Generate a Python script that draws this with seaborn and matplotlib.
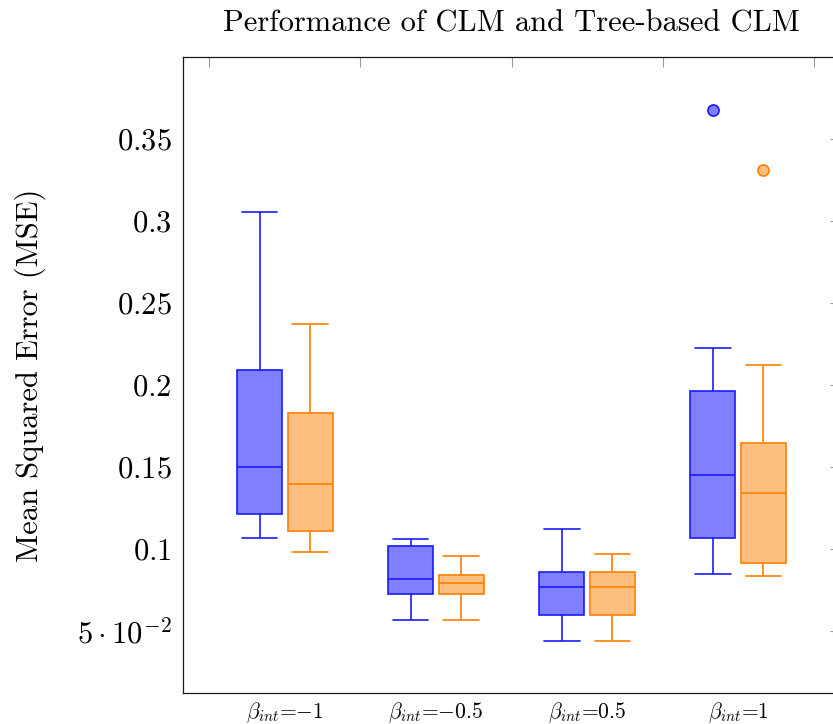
import numpy as np
import pandas as pd
import matplotlib
matplotlib.use("Agg")
import matplotlib.pyplot as plt
from matplotlib.ticker import FixedLocator, FixedFormatter, NullFormatter
import seaborn as sns

# Scenario groups and their axis labels
groups = ["-1", "-0.5", "0.5", "1"]
group_labels = [r"$\beta_{int}$=$-$1", r"$\beta_{int}$=$-$0.5",
                r"$\beta_{int}$=0.5", r"$\beta_{int}$=1"]
methods = ["CLM", "Tree-based CLM"]

# Five-number summaries (lower whisker, Q1, median, Q3, upper whisker) and outliers
clm_low = [0.1068, 0.0565, 0.0441, 0.0850]
clm_q1 = [0.1212, 0.0724, 0.0600, 0.1067]
clm_med = [0.1497, 0.0815, 0.0768, 0.1449]
clm_q3 = [0.2092, 0.1016, 0.0862, 0.1962]
clm_high = [0.3055, 0.1059, 0.1120, 0.2224]
clm_out = [[], [], [], [0.3675]]

tree_low = [0.0981, 0.0565, 0.0441, 0.0837]
tree_q1 = [0.1110, 0.0724, 0.0600, 0.0913]
tree_med = [0.1395, 0.0791, 0.0768, 0.1343]
tree_q3 = [0.1831, 0.0841, 0.0862, 0.1648]
tree_high = [0.2370, 0.0955, 0.0971, 0.2122]
tree_out = [[], [], [], [0.3309]]

ytick_values = [0.05, 0.10, 0.15, 0.20, 0.25, 0.30, 0.35]
ytick_labels = [r"$5\cdot10^{-2}$", r"$0.1$", r"$0.15$", r"$0.2$",
                r"$0.25$", r"$0.3$", r"$0.35$"]

summaries = {
    "CLM": (clm_low, clm_q1, clm_med, clm_q3, clm_high, clm_out),
    "Tree-based CLM": (tree_low, tree_q1, tree_med, tree_q3, tree_high, tree_out),
}

# Expand each summary into sample points whose quartiles equal the summary
rows = []
for m, (low, q1, med, q3, high, out) in summaries.items():
    for g, lo, a, md, b, hi, o in zip(groups, low, q1, med, q3, high, out):
        for v in [lo, a, a, md, md, b, b, hi, *o]:
            rows.append((g, m, v))
df = pd.DataFrame(rows, columns=["group", "method", "mse"])

fill_colors = {"CLM": "#8080ff", "Tree-based CLM": "#ffbf80"}
line_colors = {"CLM": "#1a1aff", "Tree-based CLM": "#ff8000"}

sns.set_style("white")
plt.rcParams["font.family"] = ["cmr10", "DejaVu Serif"]
plt.rcParams["mathtext.fontset"] = "cm"
plt.rcParams["axes.formatter.use_mathtext"] = True
plt.rcParams["text.color"] = "black"
plt.rcParams["axes.labelcolor"] = "black"

fig = plt.figure(figsize=(8.33, 7.24), dpi=100)
ax = fig.add_axes([183 / 833, 31 / 724, 657 / 833, 636 / 724])

for m in methods:
    sns.boxplot(
        data=df[df["method"] == m], x="group", y="mse",
        hue="method", hue_order=methods, order=groups, dodge=True,
        palette=fill_colors, saturation=1, width=0.669, gap=0.11,
        linewidth=1.2, linecolor=line_colors[m], whis=1.5, fliersize=8,
        flierprops=dict(marker="o", markerfacecolor=fill_colors[m],
                        markeredgecolor=line_colors[m], markeredgewidth=1.2),
        capwidths=0.235, legend=False, ax=ax,
    )

ax.set_xlim(-0.675, 3.675)
ax.set_ylim(0.0122, 0.40)

ax.xaxis.set_major_locator(FixedLocator([-0.5, 0.5, 1.5, 2.5, 3.5]))
ax.xaxis.set_major_formatter(NullFormatter())
ax.xaxis.set_minor_locator(FixedLocator(range(len(groups))))
ax.xaxis.set_minor_formatter(FixedFormatter(group_labels))
ax.set_yticks(ytick_values, ytick_labels)

ax.tick_params(which="major", direction="in", length=7.5, width=0.8,
               color="#9a9a9a", top=True, right=True, labelsize=22, pad=8,
               labelcolor="black")
ax.tick_params(axis="x", which="minor", length=0, labelsize=15.5, pad=5,
               bottom=True, top=False, labelcolor="black")

for s in ax.spines.values():
    s.set_color("#1a1a1a")
    s.set_linewidth(0.9)
    s.set_visible(True)

ax.set_xlabel("")
ax.set_ylabel("Mean Squared Error (MSE)", fontsize=22, color="black")
ax.yaxis.set_label_coords(-(183 - 46) / 657, 0.5)
ax.set_title("Performance of CLM and Tree-based CLM", fontsize=22, pad=18,
             color="black")
ax.grid(False)

fig.savefig("out.png", dpi=100)
